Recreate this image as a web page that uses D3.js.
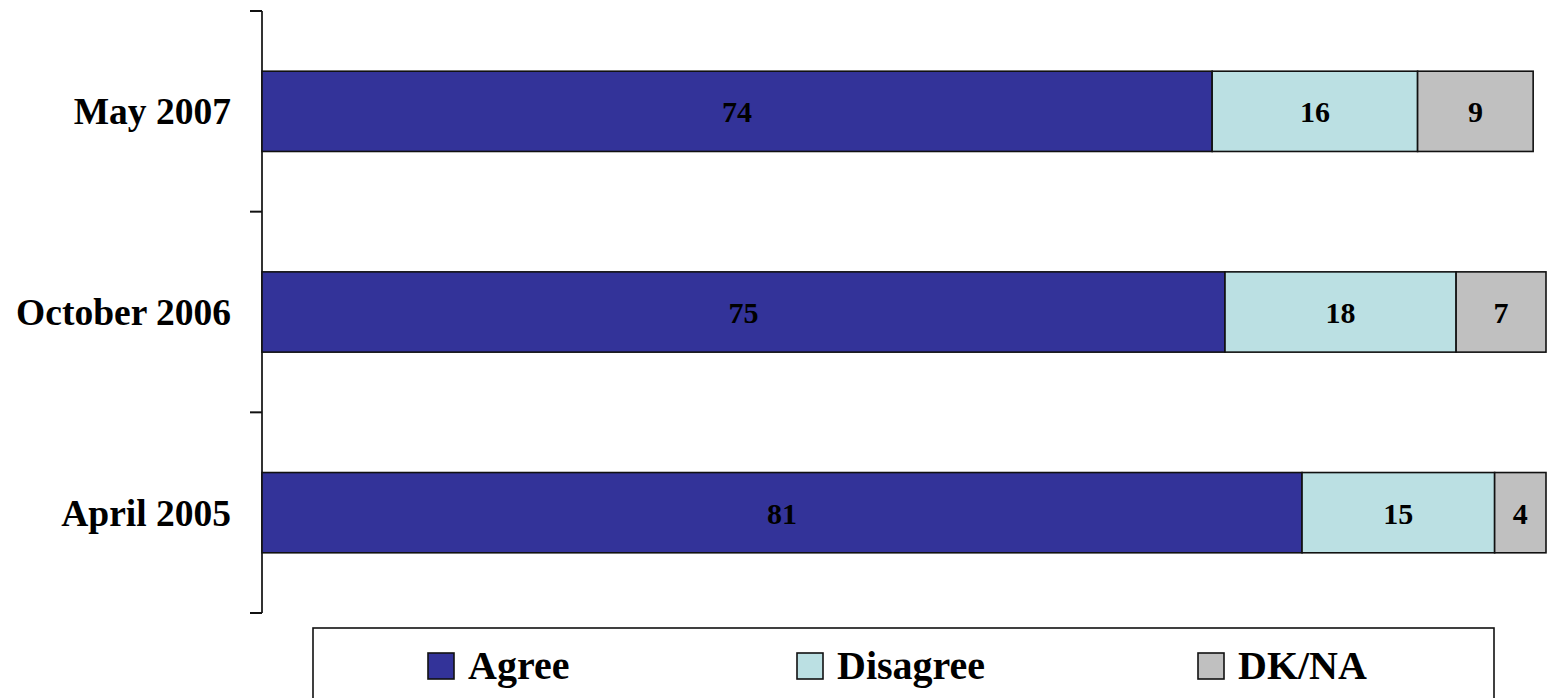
<!DOCTYPE html>
<html><head><meta charset="utf-8">
<script src="https://cdn.jsdelivr.net/npm/d3@7"></script>
<style>html,body{margin:0;padding:0;background:#fff;}svg{display:block;}</style>
</head><body>
<svg id="chart" width="1549" height="698"></svg>
<script>
const categories = ["May 2007", "October 2006", "April 2005"];
const seriesNames = ["Agree", "Disagree", "DK/NA"];
const agree = [74, 75, 81];
const disagree = [16, 18, 15];
const dkna = [9, 7, 4];
const colors = ["#333399", "#BBE0E3", "#C0C0C0"];

const svg = d3.select("#chart");
const font = "'Liberation Serif','Times New Roman',serif";

const x = d3.scaleLinear().domain([0, 100]).range([262, 1546]);
const y = d3.scaleBand().domain(categories).range([11, 613]).paddingInner(0.6).paddingOuter(0.3);

const rows = categories.map((c, i) => ({cat: c, vals: [agree[i], disagree[i], dkna[i]]}));

// axis line
svg.append("line").attr("x1", 262).attr("x2", 262).attr("y1", 11).attr("y2", 613)
  .attr("stroke", "#333").attr("stroke-width", 2);
// ticks at band boundaries
const step = y.step();
const bounds = [11].concat(categories.map((c, i) => 11 + step * (i + 1)));
svg.selectAll("line.tick").data(bounds).enter().append("line")
  .attr("x1", 250).attr("x2", 262).attr("y1", d => d).attr("y2", d => d)
  .attr("stroke", "#111").attr("stroke-width", 2);

// category labels
svg.selectAll("text.cat").data(categories).enter().append("text")
  .attr("x", 231).attr("y", d => y(d) + y.bandwidth() / 2 + 13)
  .attr("text-anchor", "end").attr("font-family", font).attr("font-weight", "bold")
  .attr("font-size", 37.5).attr("fill", "#000").text(d => d);

// bars
rows.forEach(r => {
  let cum = 0;
  r.vals.forEach((v, k) => {
    const x0 = x(cum), x1 = x(cum + v);
    svg.append("rect").attr("x", x0).attr("y", y(r.cat)).attr("width", x1 - x0).attr("height", y.bandwidth())
      .attr("fill", colors[k]).attr("stroke", "#111").attr("stroke-width", 1.6);
    svg.append("text")
      .attr("x", (x0 + x1) / 2).attr("y", y(r.cat) + y.bandwidth() / 2 + 11)
      .attr("text-anchor", "middle").attr("font-family", font).attr("font-weight", "bold")
      .attr("font-size", 30).attr("fill", "#000").text(v);
    cum += v;
  });
});

// legend
svg.append("rect").attr("x", 313).attr("y", 628).attr("width", 1181).attr("height", 100)
  .attr("fill", "none").attr("stroke", "#111").attr("stroke-width", 1.6);
const legX = [428, 797, 1198];
seriesNames.forEach((s, k) => {
  svg.append("rect").attr("x", legX[k]).attr("y", 653).attr("width", 26).attr("height", 26)
    .attr("fill", colors[k]).attr("stroke", "#111").attr("stroke-width", 1.6);
  svg.append("text")
    .attr("x", legX[k] + 40).attr("y", 679)
    .attr("font-family", font).attr("font-weight", "bold").attr("font-size", 40)
    .attr("fill", "#000").text(s);
});
</script>
</body></html>
